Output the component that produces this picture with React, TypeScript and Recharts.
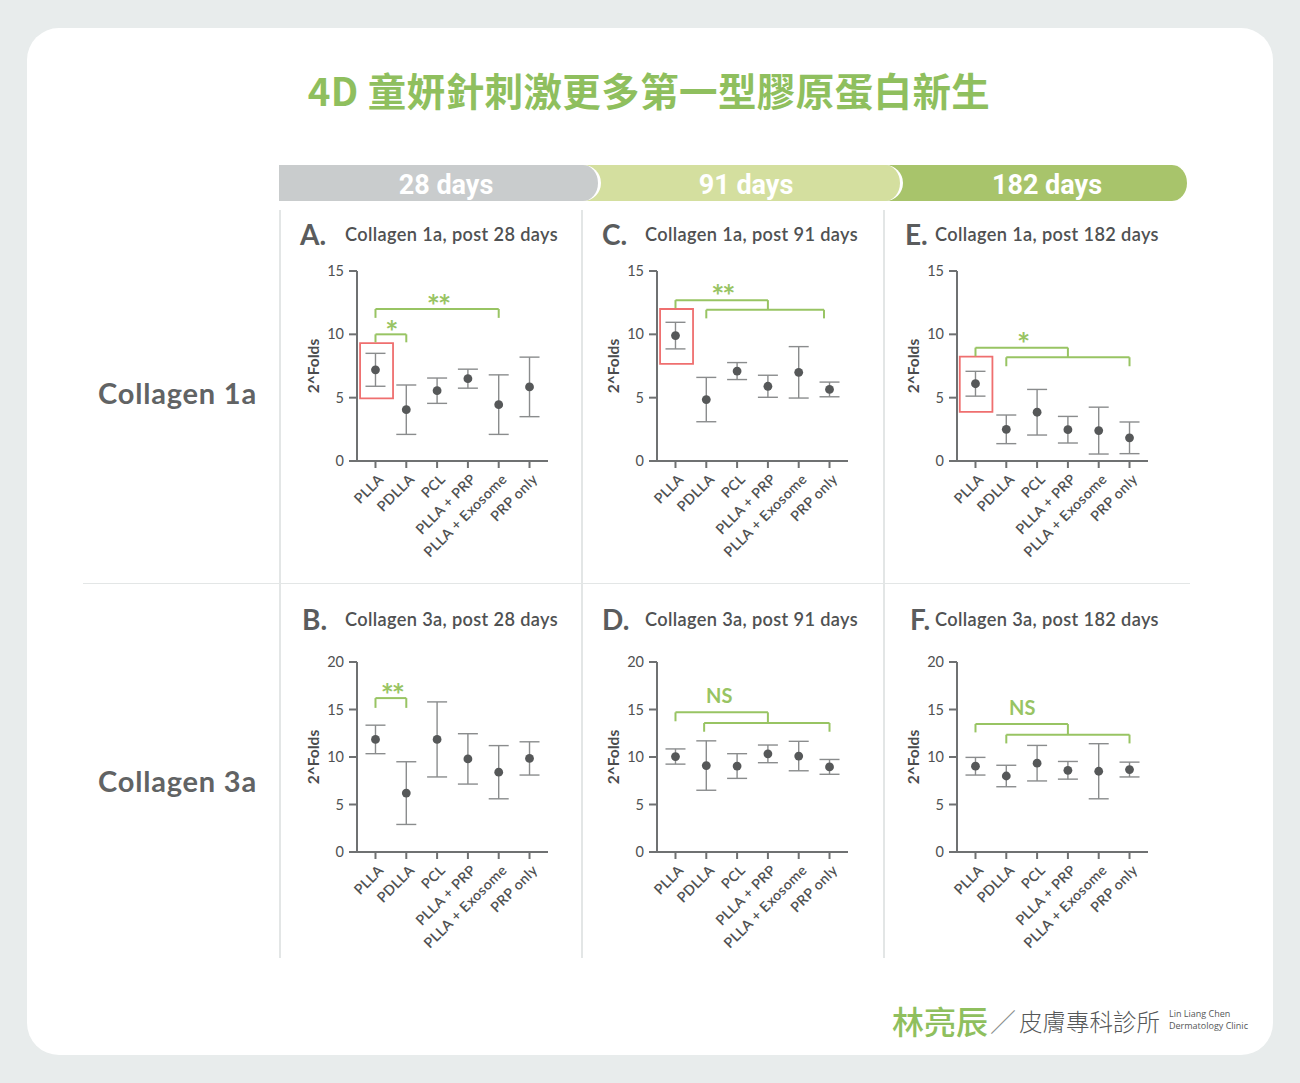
import { ErrorBar, ReferenceArea, ReferenceLine, Scatter, ScatterChart, XAxis, YAxis } from "recharts";

const GROUPS = ["PLLA", "PDLLA", "PCL", "PLLA + PRP", "PLLA + Exosome", "PRP only"];
const TICKS_1A = [0, 5, 10, 15];
const TICKS_3A = [0, 5, 10, 15, 20];

const C1A_D28_MEAN = [7.2, 4.05, 5.55, 6.5, 4.45, 5.85];
const C1A_D28_ERR = [1.3, 1.95, 1.0, 0.75, 2.35, 2.35];
const C1A_D91_MEAN = [9.9, 4.85, 7.1, 5.9, 7.0, 5.65];
const C1A_D91_ERR = [1.05, 1.75, 0.67, 0.87, 2.03, 0.58];
const C1A_D182_MEAN = [6.1, 2.5, 3.85, 2.47, 2.4, 1.83];
const C1A_D182_ERR = [0.98, 1.13, 1.8, 1.05, 1.85, 1.25];
const C3A_D28_MEAN = [11.85, 6.2, 11.85, 9.8, 8.4, 9.85];
const C3A_D28_ERR = [1.5, 3.3, 3.95, 2.65, 2.8, 1.75];
const C3A_D91_MEAN = [10.05, 9.1, 9.05, 10.33, 10.1, 8.96];
const C3A_D91_ERR = [0.8, 2.6, 1.3, 0.93, 1.55, 0.78];
const C3A_D182_MEAN = [9.03, 8.0, 9.35, 8.6, 8.5, 8.68];
const C3A_D182_ERR = [0.93, 1.13, 1.87, 0.93, 2.9, 0.78];

// significance brackets, in data units
const BRACKETS_A = [
  { from: 1, to: 2, y: 10, leftEnd: 9.37, rightEnd: 9.37 },
  { from: 1, to: 5, y: 12, leftEnd: 11.3, rightEnd: 11.3 },
];
const BRACKETS_C = [
  { from: 1, to: 4, y: 12.7, leftEnd: 12.07, rightEnd: 11.94 },
  { from: 2, to: 5.82, y: 11.94, leftEnd: 11.26, rightEnd: 11.26 },
];
const BRACKETS_E = [
  { from: 1, to: 4, y: 8.95, leftEnd: 8.27, rightEnd: 8.19 },
  { from: 2, to: 6, y: 8.19, leftEnd: 7.48, rightEnd: 7.48 },
];
const BRACKETS_B = [{ from: 1, to: 2, y: 16.2, leftEnd: 15.17, rightEnd: 15.17 }];
const BRACKETS_D = [
  { from: 1, to: 4, y: 14.7, leftEnd: 13.76, rightEnd: 13.58 },
  { from: 1.93, to: 6, y: 13.58, leftEnd: 12.66, rightEnd: 12.66 },
];
const BRACKETS_F = [
  { from: 1, to: 4, y: 13.47, leftEnd: 12.59, rightEnd: 12.35 },
  { from: 2, to: 6, y: 12.35, leftEnd: 11.43, rightEnd: 11.43 },
];

const NOTES_A = [
  { x: 1.5, y: 10.75, text: "*" },
  { x: 3.03, y: 12.85, text: "**" },
];
const NOTES_C = [{ x: 2.52, y: 13.6, text: "**" }];
const NOTES_E = [{ x: 2.53, y: 9.8, text: "*" }];
const NOTES_B = [{ x: 1.53, y: 17.3, text: "**" }];
const NOTES_D = [{ x: 2.42, y: 16.4, text: "NS" }];
const NOTES_F = [{ x: 2.52, y: 15.2, text: "NS" }];

const BOX_A = { x1: 0.5, x2: 1.57, y1: 4.95, y2: 9.3 };
const BOX_C = { x1: 0.5, x2: 1.57, y1: 7.66, y2: 12.0 };
const BOX_E = { x1: 0.49, x2: 1.55, y1: 3.88, y2: 8.24 };

const GREEN = "#98c463";
const AXIS = "#6f7172";
const TEXT = "#4f5152";
const FONT = "Lato, 'Noto Sans', sans-serif";
const CJK = "'Noto Sans CJK TC', 'Noto Sans', sans-serif";

interface Bracket {
  from: number;
  to: number;
  y: number;
  leftEnd: number;
  rightEnd: number;
}

interface Note {
  x: number;
  y: number;
  text: string;
}

interface PanelSpec {
  letter: string;
  title: string;
  col: number;
  row: number;
  mean: number[];
  err: number[];
  yMax: number;
  ticks: number[];
  brackets: Bracket[];
  notes: Note[];
  box?: { x1: number; x2: number; y1: number; y2: number };
}

const PANELS: PanelSpec[] = [
  { letter: "A.", title: "Collagen 1a, post 28 days", col: 0, row: 0, mean: C1A_D28_MEAN, err: C1A_D28_ERR, yMax: 15, ticks: TICKS_1A, brackets: BRACKETS_A, notes: NOTES_A, box: BOX_A },
  { letter: "C.", title: "Collagen 1a, post 91 days", col: 1, row: 0, mean: C1A_D91_MEAN, err: C1A_D91_ERR, yMax: 15, ticks: TICKS_1A, brackets: BRACKETS_C, notes: NOTES_C, box: BOX_C },
  { letter: "E.", title: "Collagen 1a, post 182 days", col: 2, row: 0, mean: C1A_D182_MEAN, err: C1A_D182_ERR, yMax: 15, ticks: TICKS_1A, brackets: BRACKETS_E, notes: NOTES_E, box: BOX_E },
  { letter: "B.", title: "Collagen 3a, post 28 days", col: 0, row: 1, mean: C3A_D28_MEAN, err: C3A_D28_ERR, yMax: 20, ticks: TICKS_3A, brackets: BRACKETS_B, notes: NOTES_B },
  { letter: "D.", title: "Collagen 3a, post 91 days", col: 1, row: 1, mean: C3A_D91_MEAN, err: C3A_D91_ERR, yMax: 20, ticks: TICKS_3A, brackets: BRACKETS_D, notes: NOTES_D },
  { letter: "F.", title: "Collagen 3a, post 182 days", col: 2, row: 1, mean: C3A_D182_MEAN, err: C3A_D182_ERR, yMax: 20, ticks: TICKS_3A, brackets: BRACKETS_F, notes: NOTES_F },
];

const AXIS_X = [357, 657, 957];
const PLOT_TOP = [271, 662];
const TITLE_Y = [234, 619];
const LETTER_X = [[300, 602, 905], [302, 602, 910]];
const TITLE_X = [345, 645, 935];

function XTick(props: any) {
  const { x, y, payload } = props;
  const label = GROUPS[Number(payload.value) - 1];
  return (
    <g transform={`translate(${x + 2},${y + 3})`}>
      <text x={0} y={0} dy="0.7em" textAnchor="end" transform="rotate(-45)" fill={TEXT} fontSize={14.2} fontFamily={FONT} fontWeight={600} letterSpacing={0.4}>
        {label}
      </text>
    </g>
  );
}

function Dot(props: any) {
  return <circle cx={props.cx} cy={props.cy} r={4.4} fill="#565859" />;
}

function NoteText(props: any) {
  const t = props.payload.text;
  const isStar = t.indexOf("*") >= 0;
  return (
    <text
      x={props.cx}
      y={props.cy}
      dy={isStar ? "0.6em" : "0.36em"}
      textAnchor="middle"
      fill={GREEN}
      fontSize={isStar ? 31 : 20}
      fontWeight={700}
      fontFamily={FONT}
      letterSpacing={isStar ? -2 : 0}
    >
      {t}
    </text>
  );
}

function Panel({ spec }: { spec: PanelSpec }) {
  const data = spec.mean.map((m, i) => ({ x: i + 1, y: m, err: spec.err[i] }));
  return (
    <div style={{ position: "absolute", left: AXIS_X[spec.col] - 77, top: PLOT_TOP[spec.row] - 61 }}>
      <ScatterChart width={302} height={400} margin={{ top: 61, right: 34, bottom: 9, left: 37 }}>
        <XAxis
          type="number"
          dataKey="x"
          domain={[0.4, 6.6]}
          ticks={[1, 2, 3, 4, 5, 6]}
          interval={0}
          height={140}
          stroke={AXIS}
          strokeWidth={2}
          tickSize={7}
          tickMargin={2}
          tick={<XTick />}
          allowDataOverflow
        />
        <YAxis
          type="number"
          dataKey="y"
          domain={[0, spec.yMax]}
          ticks={spec.ticks}
          interval={0}
          width={40}
          stroke={AXIS}
          strokeWidth={2}
          tickSize={8}
          tickMargin={5}
          tick={{ fill: TEXT, fontSize: 14.5, fontFamily: FONT }}
          allowDataOverflow
        />
        {spec.box && (
          <ReferenceArea
            x1={spec.box.x1}
            x2={spec.box.x2}
            y1={spec.box.y1}
            y2={spec.box.y2}
            fill="none"
            fillOpacity={0}
            stroke="#ef6f6f"
            strokeWidth={1.8}
            ifOverflow="visible"
          />
        )}
        {spec.brackets.map((b, i) => [
          <ReferenceLine key={`h${i}`} segment={[{ x: b.from, y: b.y }, { x: b.to, y: b.y }]} stroke={GREEN} strokeWidth={2} ifOverflow="visible" />,
          <ReferenceLine key={`l${i}`} segment={[{ x: b.from, y: b.y }, { x: b.from, y: b.leftEnd }]} stroke={GREEN} strokeWidth={2} ifOverflow="visible" />,
          <ReferenceLine key={`r${i}`} segment={[{ x: b.to, y: b.y }, { x: b.to, y: b.rightEnd }]} stroke={GREEN} strokeWidth={2} ifOverflow="visible" />,
        ])}
        <Scatter data={data} shape={<Dot />} isAnimationActive={false}>
          <ErrorBar dataKey="err" direction="y" width={10} stroke="#8a8c8d" strokeWidth={1.4} isAnimationActive={false} />
        </Scatter>
        <Scatter data={spec.notes} shape={<NoteText />} isAnimationActive={false} />
      </ScatterChart>
    </div>
  );
}

const HEADERS = [
  { label: "28 days", left: 279, right: 601, color: "#c9cccd", z: 3, center: 446 },
  { label: "91 days", left: 560, right: 903, color: "#d4df9f", z: 2, center: 746 },
  { label: "182 days", left: 860, right: 1190, color: "#a8c46b", z: 1, center: 1047 },
];

export default function App() {
  return (
    <div style={{ position: "absolute", left: 0, top: 0, width: 1300, height: 1083, background: "#e8ecec", overflow: "hidden", fontFamily: FONT }}>
      <div style={{ position: "absolute", left: 27, top: 28, width: 1246, height: 1027, background: "#fff", borderRadius: 32 }} />

      <div style={{ position: "absolute", left: 0, width: 1298, top: 64, textAlign: "center", fontFamily: CJK, fontWeight: 700, fontSize: 38.5, color: "#8fbf5e", lineHeight: "50px", letterSpacing: 0.4 }}>
        4D 童妍針刺激更多第一型膠原蛋白新生
      </div>

      {HEADERS.map((h) => (
        <div
          key={h.label}
          style={{
            position: "absolute",
            left: h.left,
            top: 165,
            width: h.right - h.left,
            height: 36,
            boxSizing: "border-box",
            background: h.color,
            borderRadius: "0 18px 18px 0",
            borderRight: "3px solid #fff",
            zIndex: h.z,
          }}
        />
      ))}
      {HEADERS.map((h) => (
        <div
          key={`t${h.label}`}
          style={{ position: "absolute", left: h.center - 80, width: 160, top: 167, height: 36, lineHeight: "36px", textAlign: "center", color: "#fff", fontFamily: "Roboto, sans-serif", fontWeight: 700, fontSize: 27, zIndex: 5 }}
        >
          {h.label}
        </div>
      ))}

      {[280, 582, 884].map((x) => (
        <div key={x} style={{ position: "absolute", left: x - 1, top: 210, width: 1.5, height: 748, background: "#e3e6e6" }} />
      ))}
      <div style={{ position: "absolute", left: 83, top: 582.5, width: 1107, height: 1.5, background: "#e3e6e6" }} />

      {[{ t: "Collagen 1a", y: 393 }, { t: "Collagen 3a", y: 781 }].map((r) => (
        <div key={r.t} style={{ position: "absolute", left: 98, top: r.y - 20, height: 40, lineHeight: "40px", fontSize: 29, fontWeight: 700, color: "#616364", letterSpacing: 0.8 }}>
          {r.t}
        </div>
      ))}

      {PANELS.map((p) => (
        <div key={p.letter}>
          <div style={{ position: "absolute", left: LETTER_X[p.row][p.col], top: TITLE_Y[p.row] - 18, height: 36, lineHeight: "36px", fontSize: 28, fontWeight: 700, color: "#5a5c5d" }}>
            {p.letter}
          </div>
          <div style={{ position: "absolute", left: TITLE_X[p.col], top: TITLE_Y[p.row] - 14, height: 28, lineHeight: "28px", fontSize: 18.2, fontWeight: 600, color: TEXT, whiteSpace: "nowrap", letterSpacing: 0.35 }}>
            {p.title}
          </div>
          <div
            style={{
              position: "absolute",
              left: 313 + (AXIS_X[p.col] - 357) - 50,
              top: PLOT_TOP[p.row] + 95 - 10,
              width: 100,
              height: 20,
              lineHeight: "20px",
              textAlign: "center",
              transform: "rotate(-90deg)",
              fontSize: 15.5,
              fontWeight: 700,
              color: "#4a4c4d",
            }}
          >
            2^Folds
          </div>
          <Panel spec={p} />
        </div>
      ))}

      <div style={{ position: "absolute", left: 892, top: 1000, height: 40, lineHeight: "40px", fontFamily: CJK, fontSize: 32, fontWeight: 500, color: "#8fbf5e" }}>
        林亮辰
      </div>
      <div style={{ position: "absolute", left: 990, top: 1003, height: 36, lineHeight: "36px", fontFamily: CJK, fontSize: 26, fontWeight: 300, color: "#8a8c8d" }}>
        ／
      </div>
      <div style={{ position: "absolute", left: 1019, top: 1004, height: 34, lineHeight: "34px", fontFamily: CJK, fontSize: 23.5, fontWeight: 300, color: "#555758" }}>
        皮膚專科診所
      </div>
      <div style={{ position: "absolute", left: 1169, top: 1008, fontSize: 9, lineHeight: "12px", color: "#555758", fontFamily: "'Open Sans', sans-serif" }}>
        Lin Liang Chen
        <br />
        Dermatology Clinic
      </div>
    </div>
  );
}
